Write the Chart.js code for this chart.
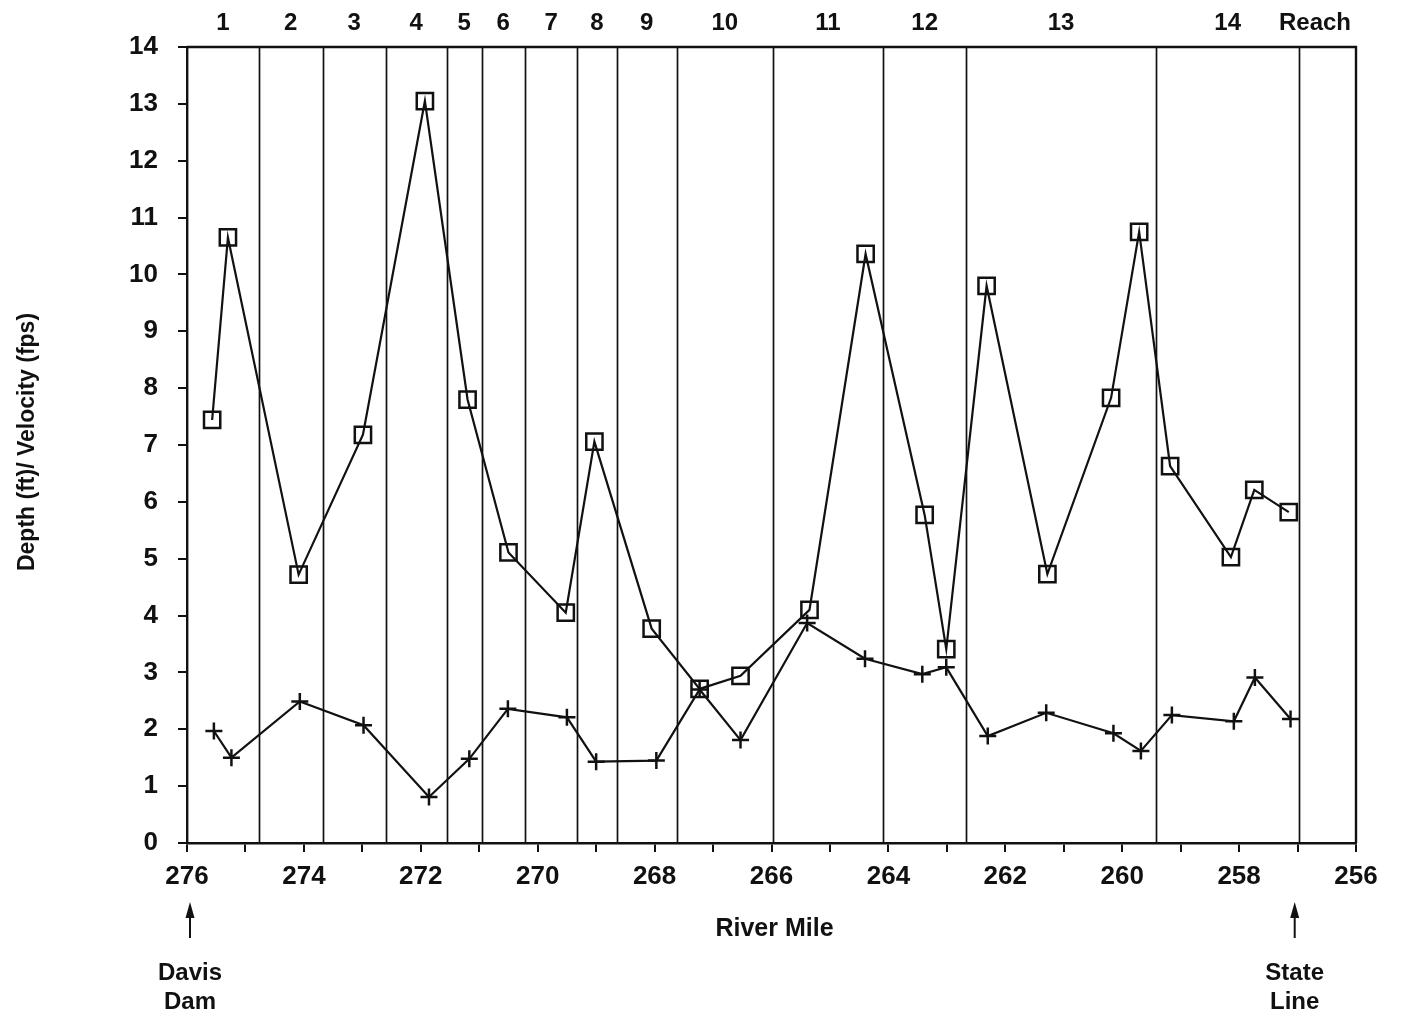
<!DOCTYPE html>
<html>
<head>
<meta charset="utf-8">
<title>Depth and Velocity by River Mile</title>
<script src="https://cdn.jsdelivr.net/npm/chart.js@4.4.1/dist/chart.umd.min.js"></script>
<style>
  html, body { margin: 0; padding: 0; background: #fff; }
  #wrap { width: 1402px; height: 1020px; }
</style>
</head>
<body>
<div id="wrap"><canvas id="riverChart" width="1402" height="1020"></canvas></div>
<script>
// Sampling stations, Davis Dam downstream to the state line
const depthMiles = [275.57, 275.30, 274.09, 272.99, 271.93, 271.20, 270.50, 269.52, 269.03, 268.05, 267.23, 266.53,
                    265.35, 264.39, 263.38, 263.01, 262.32, 261.28, 260.19, 259.71, 259.18, 258.14, 257.74, 257.15];
const depthFt = [7.44, 10.65, 4.72, 7.18, 13.05, 7.80, 5.11, 4.05, 7.06, 3.77, 2.71, 2.94,
                 4.10, 10.36, 5.77, 3.41, 9.80, 4.73, 7.83, 10.75, 6.63, 5.03, 6.21, 5.82];

const velocityMiles = [275.54, 275.24, 274.07, 272.98, 271.86, 271.17, 270.51, 269.50, 269.00, 267.97, 267.23, 266.53,
                       265.39, 264.40, 263.42, 263.01, 262.30, 261.30, 260.15, 259.68, 259.15, 258.09, 257.73, 257.12];
const velocityFps = [1.97, 1.50, 2.49, 2.07, 0.81, 1.48, 2.36, 2.21, 1.43, 1.45, 2.70, 1.81,
                     3.87, 3.24, 2.97, 3.09, 1.88, 2.29, 1.93, 1.62, 2.25, 2.14, 2.91, 2.18];

// downstream edge of each reach (river mile)
const reachEnds = [274.77, 273.68, 272.60, 271.56, 270.96, 270.22, 269.32, 268.65, 267.62, 265.98, 264.09, 262.67, 259.42, 256.97];
const reachNames = ['1', '2', '3', '4', '5', '6', '7', '8', '9', '10', '11', '12', '13', '14'];

const landmarkMiles = [276, 257.1];
const landmarkNames = [['Davis', 'Dam'], ['State', 'Line']];

const FONT = "'Liberation Sans', Arial, Helvetica, sans-serif";
const INK = '#111';

function toPoints(xs, ys) {
    return xs.map((x, i) => ({ x: x, y: ys[i] }));
}

// reach dividers, frame, reach numbers and landmark arrows
const reachPlugin = {
    id: 'reaches',
    afterDraw(chart) {
        const { ctx, chartArea } = chart;
        const xs = chart.scales.x;
        ctx.save();
        ctx.strokeStyle = INK;
        ctx.fillStyle = INK;

        ctx.lineWidth = 1.7;
        reachEnds.forEach(m => {
            const x = Math.round(xs.getPixelForValue(m)) + 0.5;
            ctx.beginPath();
            ctx.moveTo(x, chartArea.top);
            ctx.lineTo(x, chartArea.bottom);
            ctx.stroke();
        });

        ctx.lineWidth = 2.4;
        ctx.beginPath();
        ctx.moveTo(chartArea.left, chartArea.top);
        ctx.lineTo(chartArea.right, chartArea.top);
        ctx.lineTo(chartArea.right, chartArea.bottom);
        ctx.stroke();

        ctx.font = 'bold 24px ' + FONT;
        ctx.textAlign = 'center';
        ctx.textBaseline = 'middle';
        let start = 276;
        reachNames.forEach((name, i) => {
            const mid = (start + reachEnds[i]) / 2;
            ctx.fillText(name, xs.getPixelForValue(mid), 23);
            start = reachEnds[i];
        });
        ctx.textAlign = 'right';
        ctx.fillText('Reach', chartArea.right - 5, 23);

        ctx.textAlign = 'center';
        ctx.font = 'bold 25px ' + FONT;
        ctx.fillText('River Mile', (chartArea.left + chartArea.right) / 2 + 3, 929);

        ctx.save();
        ctx.translate(28, (chartArea.top + chartArea.bottom) / 2 - 3);
        ctx.rotate(-Math.PI / 2);
        ctx.font = 'bold 23px ' + FONT;
        ctx.fillText('Depth (ft)/ Velocity (fps)', 0, 0);
        ctx.restore();

        ctx.font = 'bold 24px ' + FONT;
        landmarkMiles.forEach((m, i) => {
            const x = xs.getPixelForValue(m) + 3;
            ctx.lineWidth = 2;
            ctx.beginPath();
            ctx.moveTo(x, 938);
            ctx.lineTo(x, 912);
            ctx.stroke();
            ctx.beginPath();
            ctx.moveTo(x, 902);
            ctx.lineTo(x - 4.5, 918);
            ctx.lineTo(x + 4.5, 918);
            ctx.closePath();
            ctx.fill();
            landmarkNames[i].forEach((line, k) => {
                ctx.fillText(line, x, 973 + k * 29);
            });
        });
        ctx.restore();
    }
};

const ctx = document.getElementById('riverChart');
new Chart(ctx, {
    type: 'scatter',
    data: {
        datasets: [
            {
                label: 'Depth (ft)',
                data: toPoints(depthMiles, depthFt),
                showLine: true,
                borderColor: INK,
                borderWidth: 2.2,
                pointStyle: 'rect',
                pointRadius: 11.5,
                pointBorderWidth: 2.5,
                pointBorderColor: INK,
                pointBackgroundColor: 'rgba(0,0,0,0)'
            },
            {
                label: 'Velocity (fps)',
                data: toPoints(velocityMiles, velocityFps),
                showLine: true,
                borderColor: INK,
                borderWidth: 2.2,
                pointStyle: 'cross',
                pointRadius: 8.5,
                pointBorderWidth: 2.5,
                pointBorderColor: INK
            }
        ]
    },
    options: {
        responsive: false,
        animation: false,
        layout: { padding: { top: 47, right: 46, bottom: 0, left: 0 } },
        plugins: {
            legend: { display: false },
            tooltip: { enabled: false }
        },
        scales: {
            x: {
                type: 'linear',
                reverse: true,
                min: 256,
                max: 276,
                afterFit: axis => { axis.height = 177; },
                ticks: {
                    stepSize: 1,
                    autoSkip: false,
                    maxRotation: 0,
                    padding: 9,
                    color: INK,
                    font: { family: FONT, size: 26, weight: 'bold' },
                    callback: v => (v % 2 === 0 ? String(v) : '')
                },
                grid: { drawOnChartArea: false, drawTicks: true, tickLength: 9, color: INK, lineWidth: 2 },
                border: { color: INK, width: 2.4 }
            },
            y: {
                min: 0,
                max: 14,
                afterFit: axis => { axis.width = 187; },
                ticks: {
                    stepSize: 1,
                    padding: 20,
                    color: INK,
                    font: { family: FONT, size: 26, weight: 'bold' }
                },
                grid: { drawOnChartArea: false, drawTicks: true, tickLength: 9, color: INK, lineWidth: 2 },
                border: { color: INK, width: 2.4 }
            }
        }
    },
    plugins: [reachPlugin]
});
</script>
</body>
</html>
